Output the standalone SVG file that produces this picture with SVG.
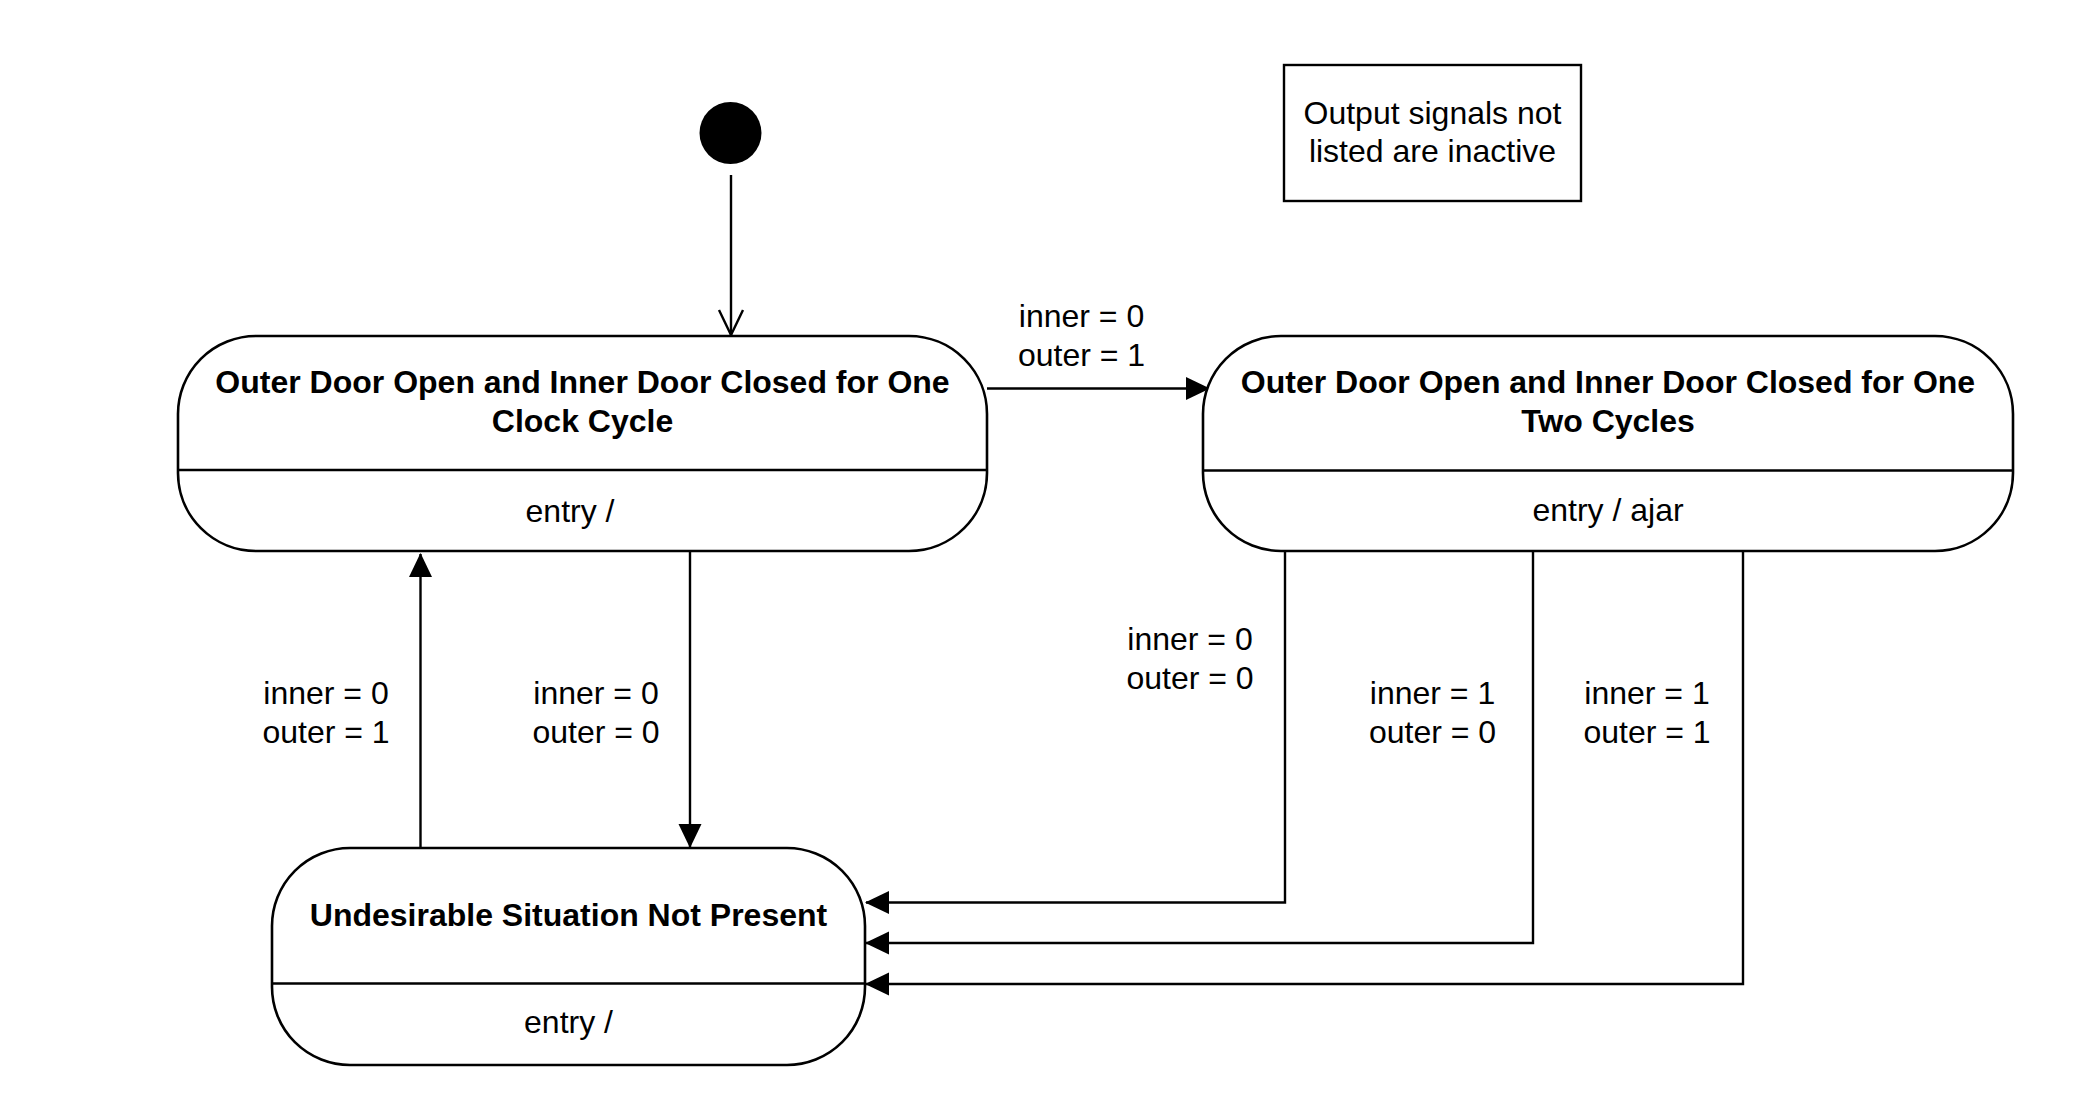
<svg xmlns="http://www.w3.org/2000/svg" width="2078" height="1094" viewBox="0 0 2078 1094">
<style>
text{font-family:"Liberation Sans",Arial,Helvetica,sans-serif;font-size:32px;fill:#000;text-anchor:middle}
.b{font-weight:bold}
.box{fill:#fff;stroke:#000;stroke-width:2.6}
.ln{fill:none;stroke:#000;stroke-width:2.6}
.c{fill:none;stroke:#000;stroke-width:2.4}
</style>
<defs>
<marker id="ah" viewBox="0 0 24 24" markerWidth="24" markerHeight="24" refX="23" refY="12" orient="auto" markerUnits="userSpaceOnUse">
<path d="M0,0.5 L24,12 L0,23.5 z" fill="#000"/>
</marker>
</defs>
<rect width="2078" height="1094" fill="#fff"/>
<g id="connectors">
<line class="c" x1="731" y1="175" x2="731" y2="335"/>
<polyline class="c" points="719,310 731,335 743,310"/>
<line class="c" x1="987" y1="388.5" x2="1209" y2="388.5" marker-end="url(#ah)"/>
<line class="c" x1="420.5" y1="848" x2="420.5" y2="554" marker-end="url(#ah)"/>
<line class="c" x1="690" y1="551" x2="690" y2="847" marker-end="url(#ah)"/>
<polyline class="c" points="1285,551 1285,902.5 866,902.5" marker-end="url(#ah)"/>
<polyline class="c" points="1533,546 1533,943 866,943" marker-end="url(#ah)"/>
<polyline class="c" points="1743,551 1743,984 866,984" marker-end="url(#ah)"/>
<text x="1081.5" y="327">inner = 0</text>
<text x="1081.5" y="366">outer = 1</text>
<text x="326" y="704">inner = 0</text>
<text x="326" y="743">outer = 1</text>
<text x="596" y="704">inner = 0</text>
<text x="596" y="743">outer = 0</text>
<text x="1190" y="650">inner = 0</text>
<text x="1190" y="689">outer = 0</text>
<text x="1432.5" y="704">inner = 1</text>
<text x="1432.5" y="743">outer = 0</text>
<text x="1647" y="704">inner = 1</text>
<text x="1647" y="743">outer = 1</text>
</g>
<g id="initial">
<circle cx="730.5" cy="133" r="31" fill="#000"/>
</g>
<g id="note">
<rect x="1284" y="65" width="297" height="136" fill="#fff" stroke="#000" stroke-width="2.4"/>
<text x="1432.5" y="124">Output signals not</text>
<text x="1432.5" y="162">listed are inactive</text>
</g>
<g id="state1">
<rect class="box" x="178" y="336" width="809" height="215" rx="78" ry="78"/>
<line class="ln" x1="178" y1="470" x2="987" y2="470"/>
<text class="b" x="582.5" y="393">Outer Door Open and Inner Door Closed for One</text>
<text class="b" x="582.5" y="432">Clock Cycle</text>
<text x="570" y="522">entry /</text>
</g>
<g id="state2">
<rect class="box" x="1203" y="336" width="810" height="215" rx="78" ry="78"/>
<line class="ln" x1="1203" y1="470.5" x2="2013" y2="470.5"/>
<text class="b" x="1608" y="393">Outer Door Open and Inner Door Closed for One</text>
<text class="b" x="1608" y="432">Two Cycles</text>
<text x="1608" y="521">entry / ajar</text>
</g>
<g id="state3">
<rect class="box" x="272" y="848" width="593" height="217" rx="78" ry="78"/>
<line class="ln" x1="272" y1="983.5" x2="865" y2="983.5"/>
<text class="b" x="568.5" y="926">Undesirable Situation Not Present</text>
<text x="568.5" y="1033">entry /</text>
</g>
</svg>
